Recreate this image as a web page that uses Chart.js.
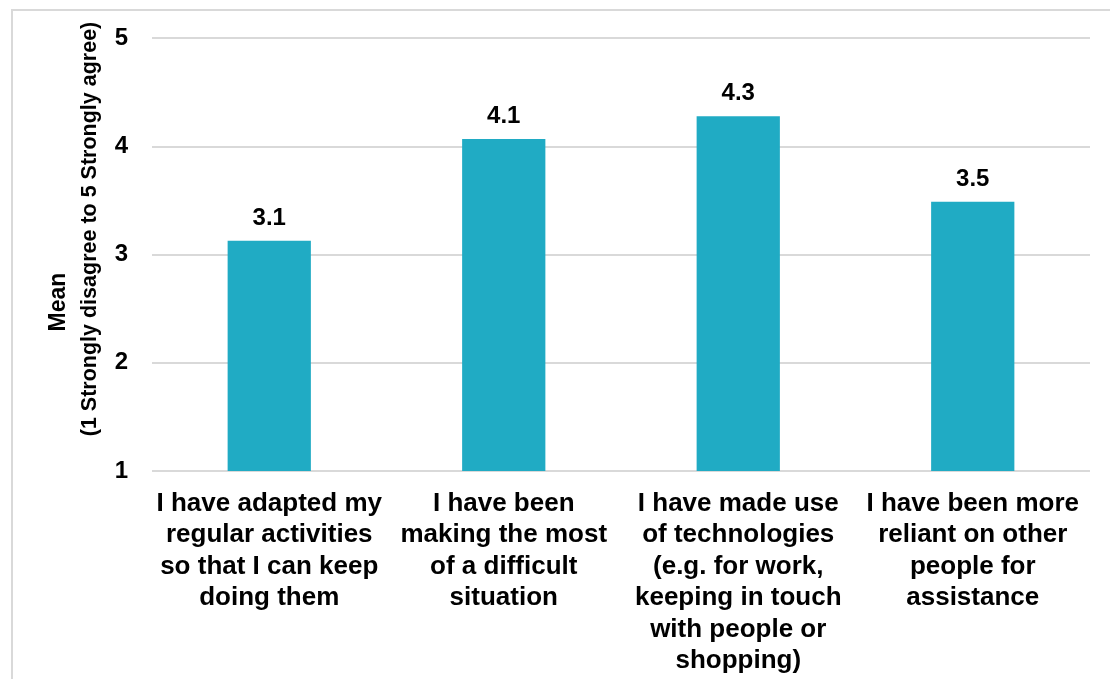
<!DOCTYPE html>
<html>
<head>
<meta charset="utf-8">
<script src="https://cdn.jsdelivr.net/npm/chart.js@4"></script>
<style>
  html, body { margin: 0; padding: 0; background: #fff; }
  #frame { position: absolute; left: 11px; top: 9px; width: 1110px; height: 700px; border-left: 2px solid #d9d9d9; border-top: 2px solid #d9d9d9; }
  #wrap { position: absolute; left: 0; top: 0; width: 1110px; height: 679px; }
</style>
</head>
<body>
<div id="frame"></div>
<div id="wrap"><canvas id="grafico"></canvas></div>
<script>
// Categorías (texto partido en líneas) y medias
const categorias = [
    ['I have adapted my', 'regular activities', 'so that I can keep', 'doing them'],
    ['I have been', 'making the most', 'of a difficult', 'situation'],
    ['I have made use', 'of technologies', '(e.g. for work,', 'keeping in touch', 'with people or', 'shopping)'],
    ['I have been more', 'reliant on other', 'people for', 'assistance']
];
const medias = [3.13, 4.07, 4.28, 3.49];
const ticksY = [1, 2, 3, 4, 5];
const tituloY = ['Mean', '(1 Strongly disagree to 5 Strongly agree)'];

const FUENTE = 'Liberation Sans, Arial, sans-serif';

// Etiquetas con el valor encima de cada barra
const etiquetasValor = {
    id: 'etiquetasValor',
    afterDatasetsDraw(chart) {
        const ctx = chart.ctx;
        ctx.save();
        ctx.font = 'bold 24px ' + FUENTE;
        ctx.fillStyle = '#000';
        ctx.textAlign = 'center';
        ctx.textBaseline = 'alphabetic';
        chart.getDatasetMeta(0).data.forEach((barra, i) => {
            ctx.fillText(medias[i].toFixed(1), barra.x, barra.y - 16);
        });
        ctx.restore();
    }
};

// Título del eje Y en dos líneas giradas
const tituloEjeY = {
    id: 'tituloEjeY',
    afterDraw(chart) {
        const ctx = chart.ctx;
        ctx.save();
        ctx.fillStyle = '#000';
        ctx.textAlign = 'center';
        ctx.textBaseline = 'middle';
        ctx.translate(59, 302);
        ctx.rotate(-Math.PI / 2);
        ctx.font = 'bold 23px ' + FUENTE;
        ctx.fillText(tituloY[0], 0, 0);
        ctx.restore();
        ctx.save();
        ctx.fillStyle = '#000';
        ctx.textAlign = 'center';
        ctx.textBaseline = 'middle';
        ctx.translate(90, 229);
        ctx.rotate(-Math.PI / 2);
        ctx.font = 'bold 21.5px ' + FUENTE;
        ctx.fillText(tituloY[1], 0, 0);
        ctx.restore();
    }
};

new Chart(document.getElementById('grafico'), {
    type: 'bar',
    data: {
        labels: categorias,
        datasets: [{
            data: medias,
            backgroundColor: '#20abc4',
            categoryPercentage: 1,
            barPercentage: 0.355
        }]
    },
    options: {
        responsive: true,
        maintainAspectRatio: false,
        animation: false,
        layout: { padding: { top: 38, right: 20, left: 0, bottom: 0 } },
        plugins: { legend: { display: false }, tooltip: { enabled: false } },
        scales: {
            x: {
                grid: { display: false },
                border: { display: false },
                ticks: {
                    color: '#000',
                    font: { family: FUENTE, size: 26, weight: 'bold', lineHeight: 1.21 },
                    maxRotation: 0,
                    autoSkip: false,
                    padding: 9
                },
                afterFit(scale) { scale.height = 208; }
            },
            y: {
                min: 1,
                max: 5,
                afterBuildTicks(scale) { scale.ticks = ticksY.map(v => ({ value: v })); },
                grid: { color: '#d9d9d9', lineWidth: 2, drawTicks: false },
                border: { display: false },
                ticks: {
                    color: '#000',
                    font: { family: FUENTE, size: 24, weight: 'bold' },
                    padding: 24
                },
                afterFit(scale) { scale.width = 152; }
            }
        }
    },
    plugins: [etiquetasValor, tituloEjeY]
});
</script>
</body>
</html>
